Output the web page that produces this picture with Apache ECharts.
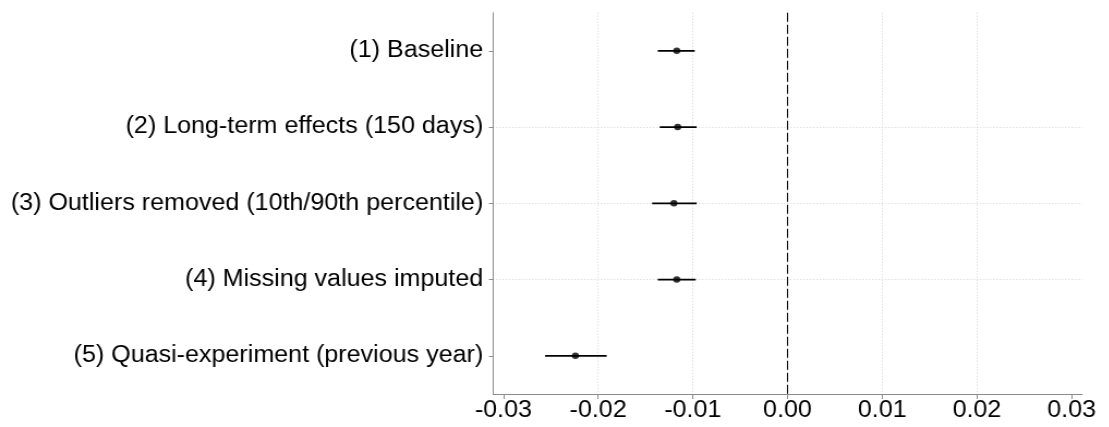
<!DOCTYPE html>
<html>
<head>
<meta charset="utf-8">
<script src="https://cdn.jsdelivr.net/npm/echarts@6/dist/echarts.min.js"></script>
<style>
  html, body { margin: 0; padding: 0; background: #fff; overflow: hidden; }
  #wrap { width: 1109px; height: 427px; overflow: hidden; }
  #chart { width: 1018px; height: 427px; transform: scaleX(1.09); transform-origin: 0 0; }
</style>
</head>
<body>
<div id="wrap"><div id="chart"></div></div>
<script>
const categories = [
  '(1) Baseline',
  '(2) Long-term effects (150 days)',
  '(3) Outliers removed (10th/90th percentile)',
  '(4) Missing values imputed',
  '(5) Quasi-experiment (previous year)'
];
const estimates = [-0.0117, -0.0116, -0.0120, -0.0117, -0.0224];
const lower     = [-0.0137, -0.0135, -0.0143, -0.0137, -0.0256];
const upper     = [-0.0098, -0.0096, -0.0096, -0.0097, -0.0191];
const xTicks = [-0.03, -0.02, -0.01, 0, 0.01, 0.02, 0.03];
const yTicks = [1, 2, 3, 4, 5];

const chart = echarts.init(document.getElementById('chart'), null, { renderer: 'canvas' });

const pointData = estimates.map((v, i) => [v, i + 1]);
const barData = estimates.map((v, i) => [lower[i], upper[i], i + 1]);

const axisGrey = '#8c8c8c';
const gridStyle = { color: '#d4d4d4', width: 1, type: [1, 2] };
const font = { fontFamily: '"Liberation Sans", Arial, sans-serif', fontSize: 23, color: '#000' };

chart.setOption({
  animation: false,
  backgroundColor: '#fff',
  grid: { left: 452.3, right: 25.3, top: 12.7, bottom: 33, containLabel: false },
  xAxis: {
    type: 'value',
    min: -0.0311,
    max: 0.0311,
    splitNumber: 6,
    axisLine: { show: true, onZero: false, lineStyle: { color: axisGrey, width: 1 } },
    axisTick: { show: true, length: 5, customValues: xTicks, lineStyle: { color: axisGrey } },
    axisLabel: Object.assign({ customValues: xTicks, margin: 5, formatter: v => v.toFixed(2) }, font),
    splitLine: { show: true, showMinLine: false, showMaxLine: false, lineStyle: gridStyle }
  },
  yAxis: {
    type: 'value',
    min: 0.5,
    max: 5.5,
    inverse: true,
    splitNumber: 5,
    axisLine: { show: true, onZero: false, lineStyle: { color: axisGrey, width: 1 } },
    axisTick: { show: true, length: 3.7, customValues: yTicks, lineStyle: { color: axisGrey } },
    axisLabel: Object.assign({ customValues: yTicks, margin: 9, formatter: v => categories[Math.round(v) - 1] }, font),
    splitLine: { show: true, showMinLine: false, showMaxLine: false, lineStyle: gridStyle }
  },
  series: [
    {
      type: 'custom',
      data: barData,
      encode: { x: [0, 1], y: 2 },
      renderItem: function (params, api) {
        const a = api.coord([api.value(0), api.value(2)]);
        const b = api.coord([api.value(1), api.value(2)]);
        return {
          type: 'line',
          shape: { x1: a[0], y1: a[1], x2: b[0], y2: b[1] },
          style: { stroke: '#000', lineWidth: 1.6 }
        };
      },
      markLine: {
        silent: true,
        symbol: 'none',
        label: { show: false },
        lineStyle: { color: '#000', type: [9, 3], width: 1.1 },
        data: [{ xAxis: 0 }]
      },
      z: 3
    },
    {
      type: 'scatter',
      data: pointData,
      symbol: 'circle',
      symbolSize: 6.5,
      itemStyle: { color: '#000' },
      z: 4
    }
  ]
});
</script>
</body>
</html>
